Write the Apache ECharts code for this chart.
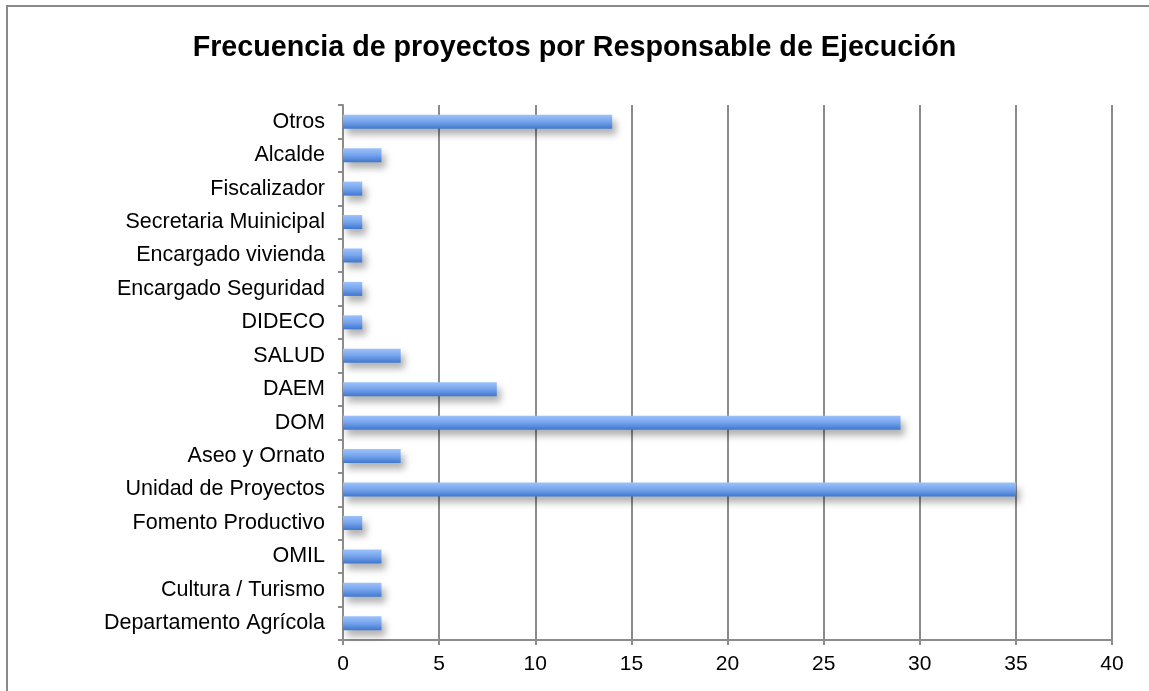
<!DOCTYPE html>
<html>
<head>
<meta charset="utf-8">
<script src="https://cdn.jsdelivr.net/npm/echarts@6/dist/echarts.min.js"></script>
<style>
  html, body { margin: 0; padding: 0; background: #fff; }
  #chart { width: 1149px; height: 691px; }
</style>
</head>
<body>
<div id="chart"></div>
<script>
// Responsables, listed from the bottom of the chart to the top
const categories = [
  'Departamento Agrícola', 'Cultura / Turismo', 'OMIL', 'Fomento Productivo',
  'Unidad de Proyectos', 'Aseo y Ornato', 'DOM', 'DAEM', 'SALUD', 'DIDECO',
  'Encargado Seguridad', 'Encargado vivienda', 'Secretaria Muinicipal',
  'Fiscalizador', 'Alcalde', 'Otros'
];
const frecuencia = [2, 2, 2, 1, 35, 3, 29, 8, 3, 1, 1, 1, 1, 1, 2, 14];
const xTicks = { min: 0, max: 40, interval: 5 };

const chart = echarts.init(document.getElementById('chart'));
const axisGrey = '#8c8c8c';
const font = 'Liberation Sans, Arial';

chart.setOption({
  backgroundColor: '#ffffff',
  animation: false,
  title: {
    text: 'Frecuencia de proyectos por Responsable de Ejecución',
    left: 'center',
    top: 29,
    textStyle: { fontFamily: font, fontWeight: 'bold', fontSize: 28.7, color: '#000' }
  },
  graphic: [{
    type: 'rect',
    shape: { x: 7, y: 6, width: 1200, height: 800 },
    style: { fill: 'none', stroke: '#8a8a8a', lineWidth: 2 },
    silent: true
  }],
  grid: { left: 343, right: 37, top: 105, bottom: 51, containLabel: false },
  xAxis: {
    type: 'value',
    min: xTicks.min, max: xTicks.max, interval: xTicks.interval,
    axisLine: { show: true, lineStyle: { color: axisGrey, width: 2 } },
    axisTick: { show: true, length: 5, lineStyle: { color: axisGrey, width: 2 } },
    splitLine: { show: true, lineStyle: { color: axisGrey, width: 2 } },
    axisLabel: { color: '#000', fontFamily: font, fontSize: 21, margin: 14 }
  },
  yAxis: {
    type: 'category',
    data: categories,
    axisLine: { show: true, lineStyle: { color: axisGrey, width: 2 } },
    axisTick: { show: true, length: 5, lineStyle: { color: axisGrey, width: 2 } },
    axisLabel: { color: '#000', fontFamily: font, fontSize: 21.5, margin: 18 }
  },
  series: [{
    type: 'bar',
    data: frecuencia,
    barWidth: 14,
    itemStyle: {
      color: new echarts.graphic.LinearGradient(0, 0, 0, 1, [
        { offset: 0, color: '#9cc2fb' },
        { offset: 0.5, color: '#75a3ec' },
        { offset: 1, color: '#3f77cf' }
      ]),
      shadowColor: 'rgba(0,0,0,0.3)',
      shadowBlur: 7,
      shadowOffsetX: 4,
      shadowOffsetY: 6
    }
  }]
});
</script>
</body>
</html>
